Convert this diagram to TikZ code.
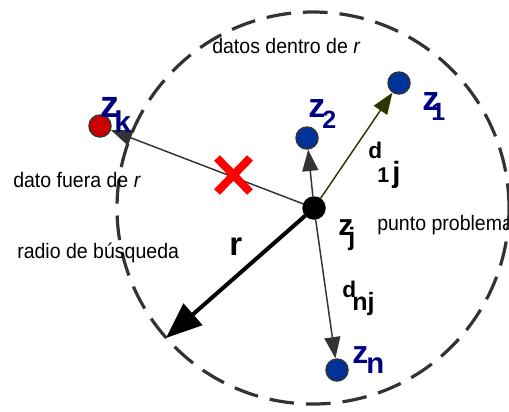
\documentclass[tikz,border=0pt]{standalone}
\usepackage{fontspec}
\setmainfont{Liberation Sans}
\newfontfamily\narrowfont[FakeStretch=0.93]{Liberation Sans}
\usetikzlibrary{arrows.meta}
\definecolor{ptblue}{RGB}{0,51,153}
\definecolor{lblnavy}{RGB}{0,0,128}
\definecolor{olivedk}{RGB}{51,51,0}
\definecolor{dgray}{RGB}{51,51,51}
\definecolor{xred}{RGB}{255,0,0}
\definecolor{ptred}{RGB}{204,0,0}
\begin{document}
\begin{tikzpicture}[x=0.75pt,y=-0.75pt,
  ptnode/.style={circle, draw=dgray, line width=1.1pt, minimum size=16.5pt, inner sep=0pt},
  txt/.style={font=\narrowfont\fontsize{15.75pt}{18pt}\selectfont, inner sep=0pt, anchor=base west},
  lb/.style={font=\bfseries\fontsize{#1}{#1}\selectfont, inner sep=0pt, anchor=base west},
  thinarr/.style={line width=1.1pt, draw=dgray, fill=dgray, -{Triangle[length=16pt,width=12pt]}},
  radarr/.style={line width=3pt, draw=black, fill=black, -{Triangle[length=27pt,width=21pt]}},
  searchcircle/.style={draw=dgray, line width=2.4pt, dash pattern=on 18.5pt off 9pt}
]
\useasboundingbox (0,0) rectangle (509,411);
\clip (0,0) rectangle (509,411);

% search circle
\draw[searchcircle] (313,208) circle[radius=147pt];

% points
\node[ptnode, fill=ptblue] (z1) at (399,83) {};
\node[ptnode, fill=ptblue] (z2) at (307,138) {};
\node[ptnode, fill=ptblue] (zn) at (337,370) {};
\node[ptnode, fill=ptred] (zk) at (100,126) {};
\node[ptnode, fill=black, draw=black] (zj) at (314,208) {};
\coordinate (rend) at (166,338);

% arrows
\draw[thinarr] (zj) -- (zk);
\draw[thinarr] (zj) -- (z2);
\draw[thinarr, draw=olivedk, fill=olivedk] (zj) -- (z1);
\draw[thinarr] (zj) -- (zn);
\draw[radarr] (zj) -- (rend);

% red cross
\draw[xred, line width=6pt] (217,158) -- (250,192) (250,158) -- (217,192);

% texts
\node[txt] (tin) at (212,53) {datos dentro de \textit{r}};
\node[txt] (tout) at (13,187) {dato fuera de \textit{r}};
\node[txt] (trad) at (17,258) {radio de búsqueda};
\node[txt] (tpp) at (377,230) {punto problema};

% labels
\node[lb=28.5pt, text=lblnavy] (lzk) at (100,117) {z};
\node[lb=22.5pt, text=lblnavy] (lzks) at (114,132) {k};
\node[lb=25.5pt, text=lblnavy] (lz2) at (308,117) {z};
\node[lb=18.75pt, text=lblnavy] (lz2s) at (322,128) {2};
\node[lb=25.5pt, text=lblnavy] (lz1) at (422,110) {z};
\node[lb=18.75pt, text=lblnavy] (lz1s) at (431,120) {1};
\node[lb=24pt, text=lblnavy] (lzn) at (352,363) {z};
\node[lb=22pt, text=lblnavy] (lzns) at (366,373) {n};
\node[lb=22.5pt] (lzj) at (338,235) {z};
\node[lb=18.75pt] (lzjs) at (348,245) {j};
\node[lb=17pt] (ld1) at (368,158) {d};
\node[lb=16pt] (ld1s) at (377,182) {1};
\node[lb=22pt] (ld1j) at (392,182) {j};
\node[lb=17pt] (ldn) at (342,297) {d};
\node[lb=18.75pt] (ldns) at (352,310) {nj};
\node[lb=24.75pt] (lr) at (229,255) {r};
\end{tikzpicture}
\end{document}
